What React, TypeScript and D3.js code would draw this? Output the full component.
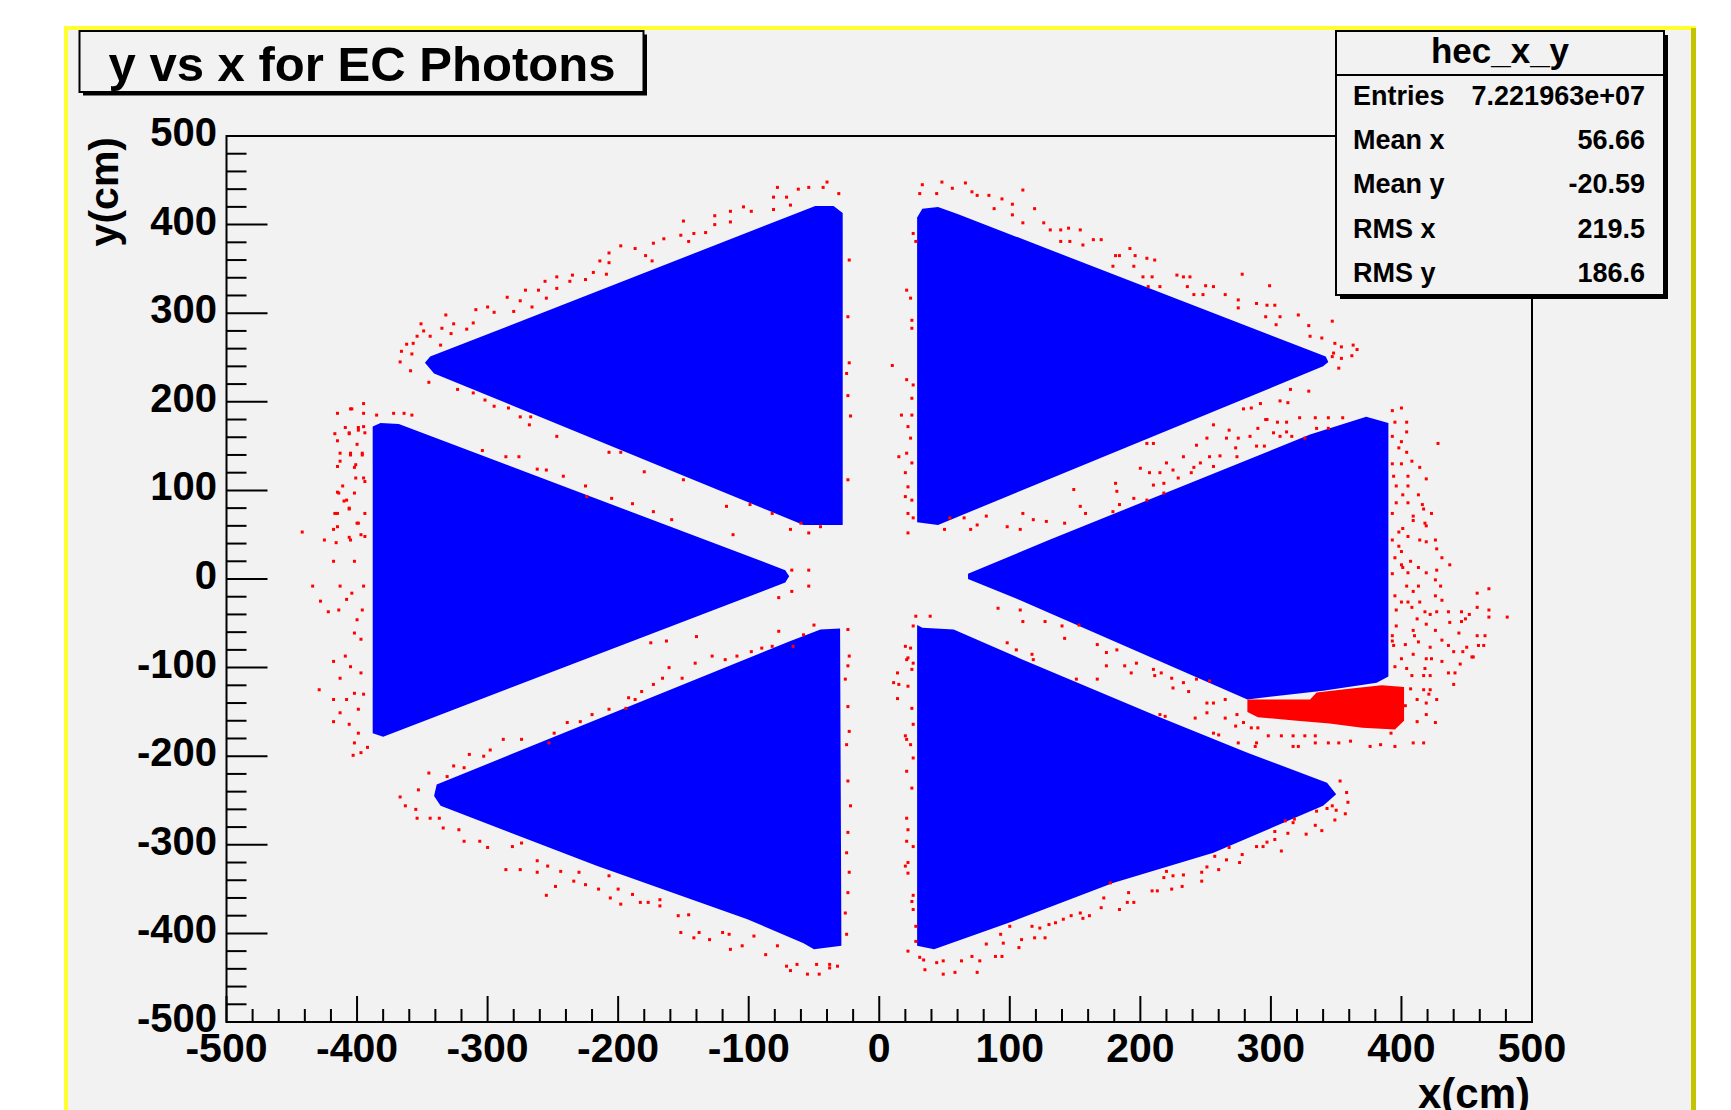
import React from 'react';
import * as d3 from 'd3';

type Pt = [number, number];

const title = 'y vs x for EC Photons';
const xTitle = 'x(cm)';
const yTitle = 'y(cm)';
const majorTicks = [-500, -400, -300, -200, -100, 0, 100, 200, 300, 400, 500];
const statsName = 'hec_x_y';
const statsKeys = ['Entries', 'Mean x', 'Mean y', 'RMS x', 'RMS y'];
const statsValues = ['7.221963e+07', '56.66', '-20.59', '219.5', '186.6'];

// filled sectors (blue histogram), outlines in cm
const sectorUpperLeft: Pt[] = [[-344, 251], [-49, 421], [-35, 421], [-28, 413], [-28, 61], [-58, 61], [-341, 232], [-348, 244]];
const sectorUpperRight: Pt[] = [[29, 408], [33, 418], [45, 420], [60, 412], [342, 251], [344, 245], [340, 240], [45, 61], [29, 64]];
const sectorLeft: Pt[] = [[-388, 172], [-382, 176], [-368, 175], [-72, 10], [-69, 3], [-72, -4], [-380, -178], [-388, -174]];
const sectorRight: Pt[] = [[68, 6], [130, 44], [330, 163], [373, 183], [390, 176], [390, -110], [381, -117], [340, -126], [282, -136], [108, -24], [68, 0]];
const sectorLowerLeft: Pt[] = [[-30, -56], [-45, -57], [-68, -70], [-339, -232], [-341, -245], [-336, -256], [-216, -324], [-101, -384], [-58, -411], [-50, -418], [-29, -414]];
const sectorLowerRight: Pt[] = [[29, -52], [33, -55], [57, -57], [110, -91], [213, -155], [282, -196], [343, -230], [350, -243], [340, -256], [256, -309], [179, -343], [103, -386], [42, -418], [29, -414]];

// dense red patch under the right sector
const hotSpot: Pt[] = [[282, -136], [330, -136], [335, -128], [360, -124], [385, -120], [402, -122], [402, -160], [395, -170], [370, -168], [345, -163], [320, -160], [290, -156], [282, -150]];

// red stray entries, cm
const strayUpperLeft: Pt[] = [[-78, 442], [-62, 440], [-54, 442], [-43, 442], [-40, 448], [-31, 435], [-81, 431], [-71, 431], [-68, 422], [-81, 417], [-104, 420], [-114, 415], [-98, 415], [-126, 410], [-150, 404], [-126, 400], [-114, 403], [-142, 390], [-133, 391], [-152, 388], [-173, 379], [-165, 384], [-146, 381], [-198, 376], [-187, 373], [-207, 368], [-179, 365], [-214, 359], [-207, 357], [-174, 359], [-219, 346], [-235, 343], [-209, 344], [-247, 341], [-256, 336], [-237, 336], [-225, 338], [-271, 326], [-261, 326], [-247, 328], [-275, 314], [-285, 318], [-255, 317], [-266, 307], [-300, 307], [-309, 304], [-295, 301], [-332, 298], [-280, 302], [-351, 288], [-326, 288], [-316, 282], [-311, 289], [-335, 283], [-349, 280], [-354, 274], [-344, 274], [-328, 277], [-362, 265], [-357, 266], [-366, 257], [-358, 254], [-367, 245], [-336, 264], [-359, 235], [-345, 222]];
const strayGapLeftUpper: Pt[] = [[-323, 214], [-311, 210], [-302, 202], [-295, 195], [-284, 193], [-275, 183], [-267, 183], [-268, 174], [-247, 161], [-207, 143], [-198, 143], [-180, 121], [-150, 112], [-117, 82], [-99, 84], [-68, 56], [-45, 59], [-112, 50], [-255, 123], [-242, 116], [-276, 138], [-286, 138], [-262, 124], [-225, 105], [-224, 93], [-205, 91], [-189, 85], [-173, 76], [-159, 67], [-304, 145], [-60, 63], [-54, 52], [-82, 74], [-67, 10], [-54, 10], [-54, -8], [-67, -14], [-77, -21]];
const strayLeft: Pt[] = [[-415, 187], [-405, 192], [-395, 198], [-395, 187], [-385, 185], [-372, 187], [-364, 187], [-358, 185], [-409, 171], [-399, 171], [-417, 164], [-406, 164], [-394, 165], [-413, 142], [-405, 142], [-396, 140], [-401, 129], [-415, 127], [-411, 105], [-401, 114], [-394, 110], [-414, 97], [-402, 97], [-410, 88], [-406, 80], [-394, 74], [-417, 74], [-400, 63], [-415, 59], [-394, 48], [-406, 47], [-442, 53], [-434, -8], [-428, -25], [-422, -37], [-429, -125], [-425, 44], [-418, 20], [-413, -8], [-414, -35], [-416, 41], [-418, 56], [-415, 74], [-415, 98], [-406, 79], [-405, 44], [-402, 126], [-395, 114], [-405, 140], [-396, 142], [-413, 133], [-415, 156], [-406, 165], [-399, 168], [-395, 172], [-404, 192], [-400, 152], [-408, 89], [-399, 63], [-397, 50], [-402, 20], [-395, -8], [-404, -16], [-408, -23], [-396, -35], [-400, -46], [-402, -61], [-397, -68], [-418, -93], [-409, -87], [-405, -99], [-413, -112], [-397, -106], [-402, -129], [-395, -130], [-418, -136], [-408, -136], [-413, -151], [-399, -147], [-418, -161], [-406, -164], [-402, -185], [-397, -196], [-399, -174], [-403, -199], [-392, -190]];
const strayGapLeftLower: Pt[] = [[-345, -219], [-331, -223], [-326, -211], [-314, -198], [-303, -200], [-298, -193], [-288, -181], [-274, -181], [-253, -185], [-249, -174], [-239, -162], [-229, -161], [-220, -153], [-207, -147], [-194, -146], [-187, -136], [-182, -127], [-173, -119], [-166, -112], [-161, -100], [-141, -95], [-128, -87], [-118, -91], [-109, -87], [-98, -82], [-90, -78], [-82, -76], [-77, -59], [-58, -63], [-50, -52], [-66, -76], [-140, -65], [-163, -70], [-175, -72], [-151, -112], [-192, -134], [-318, -213]];
const strayChannel: Pt[] = [[-24, 296], [-23, 244], [-25, 232], [-24, 207], [-22, 184], [-24, 112], [-23, 360], [21, 326], [24, 317], [25, 292], [25, 283], [28, 381], [26, 390], [10, 241], [21, 225], [26, 219], [25, 204], [17, 185], [25, 185], [22, 172], [24, 159], [15, 138], [21, 142], [25, 131], [20, 120], [22, 104], [20, 93], [25, 89], [22, 74], [26, 69], [22, 52], [-24, -354], [-26, -377], [-25, -401], [-23, -331], [-25, -309], [-24, -286], [-22, -256], [-24, -228], [-25, -187], [-23, -172], [-24, -144], [-26, -113], [-24, -98], [-23, -87], [-24, -57], [28, -42], [39, -42], [26, -53], [20, -76], [24, -78], [22, -89], [26, -95], [25, -102], [21, -91], [14, -106], [11, -117], [15, -119], [22, -121], [14, -135], [25, -146], [26, -164], [20, -177], [21, -181], [24, -187], [26, -202], [21, -217], [25, -236], [21, -270], [22, -283], [21, -296], [26, -302], [20, -324], [22, -332], [22, -320], [26, -357], [25, -364], [26, -373], [28, -392], [28, -409], [22, -420]];
const strayUpperRight: Pt[] = [[31, 435], [33, 445], [48, 448], [56, 441], [44, 435], [66, 447], [71, 437], [75, 433], [84, 433], [94, 429], [102, 423], [110, 439], [119, 418], [88, 418], [102, 411], [110, 402], [126, 402], [131, 394], [139, 394], [145, 396], [154, 394], [164, 383], [170, 383], [146, 381], [156, 377], [139, 381], [181, 365], [184, 365], [192, 373], [196, 365], [205, 362], [211, 360], [179, 353], [195, 353], [202, 341], [209, 341], [228, 343], [233, 341], [238, 341], [206, 330], [215, 330], [236, 330], [250, 331], [256, 330], [278, 344], [299, 331], [241, 321], [248, 321], [265, 321], [275, 315], [289, 311], [297, 309], [303, 309], [275, 306], [296, 296], [307, 296], [321, 298], [304, 287], [329, 286], [347, 291], [330, 274], [339, 272], [349, 266], [354, 262], [363, 264], [366, 259], [347, 251], [354, 249], [362, 252], [352, 238], [348, 255]];
const strayGapRightUpper: Pt[] = [[315, 214], [329, 212], [307, 201], [313, 199], [279, 192], [285, 193], [297, 180], [322, 182], [334, 182], [344, 182], [355, 182], [335, 170], [344, 170], [316, 161], [307, 161], [290, 170], [284, 161], [268, 168], [256, 174], [266, 159], [275, 159], [251, 159], [243, 151], [253, 138], [261, 139], [246, 131], [241, 126], [220, 131], [215, 120], [225, 123], [229, 114], [233, 138], [289, 150], [295, 150], [273, 148], [274, 138], [256, 127], [239, 120], [218, 108], [207, 120], [210, 106], [200, 125], [181, 108], [182, 99], [149, 101], [184, 84], [195, 91], [205, 89], [218, 97], [154, 82], [158, 74], [179, 76], [142, 63], [128, 65], [118, 67], [110, 74], [108, 56], [98, 59], [75, 61], [82, 71], [70, 56], [65, 69], [50, 56], [54, 69], [210, 153], [205, 153], [296, 180], [305, 177], [312, 177], [302, 165], [312, 166], [326, 159], [292, 198]];
const strayRight: Pt[] = [[400, 193], [393, 190], [395, 177], [404, 177], [404, 166], [393, 161], [400, 155], [398, 148], [404, 143], [428, 153], [408, 133], [400, 130], [393, 130], [414, 126], [394, 116], [405, 116], [419, 113], [396, 105], [405, 105], [401, 95], [413, 95], [396, 86], [405, 86], [416, 84], [417, 79], [423, 74], [409, 71], [409, 66], [418, 63], [419, 60], [393, 74], [401, 57], [398, 53], [405, 48], [414, 44], [419, 42], [426, 44], [393, 44], [398, 37], [400, 31], [427, 34], [395, 24], [407, 20], [431, 24], [437, 16], [400, 16], [401, 13], [405, 7], [413, 13], [419, 7], [427, 10], [393, 6], [426, -1], [404, -8], [409, -14], [413, -8], [430, -8], [458, -16], [467, -11], [395, -19], [400, -26], [405, -26], [414, -26], [426, -19], [431, -24], [396, -35], [408, -32], [418, -37], [422, -40], [427, -37], [436, -37], [446, -37], [458, -32], [467, -35], [481, -43], [452, -40], [467, -43], [449, -45], [446, -48], [412, -45], [419, -51], [426, -58], [437, -49], [396, -53], [409, -58], [410, -64], [444, -61], [458, -64], [464, -64], [393, -64], [393, -70], [394, -75], [403, -74], [413, -71], [422, -77], [431, -69], [436, -75], [440, -82], [450, -77], [454, -88], [447, -82], [459, -75], [463, -75], [400, -90], [409, -85], [419, -90], [423, -90], [431, -93], [445, -96], [455, -88], [395, -99], [404, -101], [418, -101], [417, -109], [422, -109], [408, -109], [436, -106], [441, -106], [440, -119], [407, -124], [417, -125], [422, -125], [421, -130], [419, -140], [403, -143], [412, -136], [412, -161], [427, -136], [419, -153], [426, -162], [409, -185], [417, -185], [392, -174], [395, -189]];
const strayGapRightLower: Pt[] = [[91, -33], [108, -35], [110, -48], [127, -48], [140, -53], [153, -52], [142, -67], [167, -74], [182, -80], [174, -83], [197, -95], [188, -98], [174, -98], [193, -106], [210, -102], [216, -106], [224, -112], [211, -109], [233, -117], [225, -123], [237, -127], [243, -113], [253, -115], [265, -136], [251, -140], [256, -140], [251, -151], [265, -157], [274, -153], [279, -162], [285, -168], [290, -168], [298, -177], [308, -177], [317, -177], [317, -189], [326, -177], [334, -177], [334, -185], [344, -185], [352, -185], [361, -183], [376, -189], [384, -187], [260, -176], [275, -185], [289, -185], [105, -80], [117, -85], [118, -91], [98, -72], [151, -113], [167, -113], [215, -153], [219, -155], [242, -157], [256, -174], [273, -166], [288, -189], [321, -189]];
const strayLowerRight: Pt[] = [[31, -427], [34, -430], [35, -441], [44, -433], [49, -446], [58, -444], [49, -431], [63, -431], [71, -426], [77, -431], [75, -444], [89, -426], [94, -426], [82, -412], [95, -411], [107, -416], [109, -407], [119, -405], [127, -405], [93, -401], [100, -392], [117, -392], [123, -394], [130, -390], [135, -388], [141, -384], [147, -380], [154, -377], [161, -380], [156, -383], [170, -371], [184, -373], [190, -365], [195, -365], [172, -360], [191, -354], [177, -343], [209, -352], [213, -352], [224, -350], [232, -347], [218, -337], [220, -330], [225, -335], [233, -334], [247, -341], [247, -331], [251, -325], [260, -328], [257, -313], [266, -317], [278, -311], [276, -320], [268, -303], [289, -302], [294, -302], [297, -297], [303, -294], [308, -307], [303, -285], [313, -287], [317, -275], [327, -288], [334, -278], [339, -284], [349, -272], [357, -265], [343, -259], [347, -256], [350, -261], [353, -228], [358, -241], [359, -252], [335, -262], [318, -271], [311, -273]];
const strayLowerLeft: Pt[] = [[-367, -246], [-363, -256], [-353, -238], [-355, -260], [-354, -270], [-344, -270], [-337, -270], [-334, -281], [-322, -283], [-318, -296], [-306, -296], [-300, -303], [-286, -328], [-275, -328], [-281, -302], [-274, -298], [-262, -318], [-262, -331], [-255, -357], [-248, -347], [-254, -324], [-244, -330], [-234, -341], [-225, -345], [-230, -331], [-207, -335], [-215, -350], [-206, -360], [-198, -367], [-200, -350], [-189, -356], [-183, -365], [-177, -365], [-168, -362], [-168, -369], [-154, -380], [-146, -379], [-152, -399], [-142, -405], [-138, -399], [-130, -407], [-120, -399], [-114, -418], [-105, -414], [-115, -401], [-96, -403], [-87, -424], [-78, -414], [-71, -437], [-68, -442], [-63, -435], [-55, -446], [-48, -435], [-46, -446], [-38, -435], [-38, -439], [-32, -437]];

const font = "'Liberation Sans', Arial, Helvetica, sans-serif";

export default function App() {
  const x = d3.scaleLinear().domain([-500, 500]).range([226.5, 1532]);
  const y = d3.scaleLinear().domain([-500, 500]).range([1022, 136]);
  const minorTicks = d3.range(-500, 501, 20).filter((v) => v % 100 !== 0);
  const outline = d3
    .line<Pt>()
    .x((d) => x(d[0]))
    .y((d) => y(d[1]))
    .curve(d3.curveLinearClosed);

  const sectors = [sectorUpperLeft, sectorUpperRight, sectorLeft, sectorRight, sectorLowerLeft, sectorLowerRight];
  const strays = [
    ...strayUpperLeft, ...strayGapLeftUpper, ...strayLeft, ...strayGapLeftLower, ...strayChannel,
    ...strayUpperRight, ...strayGapRightUpper, ...strayRight, ...strayGapRightLower,
    ...strayLowerRight, ...strayLowerLeft,
  ];

  const [x0, x1] = x.range();
  const [yb, yt] = y.range();

  return (
    <svg width={1731} height={1110} style={{ position: 'absolute', left: 0, top: 0 }} fontFamily={font} fontWeight="bold">
      <rect x={0} y={0} width={1731} height={1110} fill="#ffffff" />
      {/* canvas with bevelled yellow border */}
      <rect x={64} y={26} width={1632} height={1100} fill="#f2f2f2" />
      <rect x={64} y={26} width={1632} height={4} fill="#ffff30" />
      <rect x={64} y={26} width={4} height={1100} fill="#ffff30" />
      <rect x={1691} y={28} width={5} height={1100} fill="#c4c400" />

      {/* data */}
      {sectors.map((s, i) => (
        <path key={i} d={outline(s) ?? ''} fill="#0000ff" />
      ))}
      {strays.map((p, i) => (
        <rect key={i} x={x(p[0]) - 1.5} y={y(p[1]) - 1.5} width={3} height={3} fill="#ff0000" />
      ))}
      <path d={outline(hotSpot) ?? ''} fill="#ff0000" />

      {/* frame */}
      <rect x={x0} y={yt} width={x1 - x0} height={yb - yt} fill="none" stroke="#000" strokeWidth={2} />

      {/* axes ticks */}
      <g stroke="#000" strokeWidth={2}>
        {majorTicks.map((v) => (
          <line key={'ym' + v} x1={x0} x2={x0 + 41} y1={y(v)} y2={y(v)} />
        ))}
        {minorTicks.map((v) => (
          <line key={'yn' + v} x1={x0} x2={x0 + 20} y1={y(v)} y2={y(v)} />
        ))}
        {majorTicks.map((v) => (
          <line key={'xm' + v} x1={x(v)} x2={x(v)} y1={yb} y2={yb - 26} />
        ))}
        {minorTicks.map((v) => (
          <line key={'xn' + v} x1={x(v)} x2={x(v)} y1={yb} y2={yb - 13} />
        ))}
      </g>
      {majorTicks.map((v) => (
        <text key={'yl' + v} x={217} y={y(v) + 10} fontSize={40} textAnchor="end" fill="#000">
          {v}
        </text>
      ))}
      {majorTicks.map((v) => (
        <text key={'xl' + v} x={x(v)} y={1062} fontSize={41} textAnchor="middle" fill="#000">
          {v}
        </text>
      ))}
      <text x={1530} y={1108} fontSize={42} textAnchor="end" fill="#000">
        {xTitle}
      </text>
      <text transform="translate(118,137) rotate(-90)" fontSize={41} textAnchor="end" fill="#000">
        {yTitle}
      </text>

      {/* title box */}
      <rect x={83} y={34.5} width={564} height={61} fill="#000" />
      <rect x={79.5} y={31} width={564} height={61} fill="#f2f2f2" stroke="#000" strokeWidth={2} />
      <text x={362} y={81} fontSize={49} textAnchor="middle" fill="#000" textLength={507} lengthAdjust="spacingAndGlyphs">
        {title}
      </text>

      {/* stats box */}
      <rect x={1340} y={35} width={328} height={264} fill="#000" />
      <rect x={1336} y={31} width={328} height={264} fill="#f2f2f2" stroke="#000" strokeWidth={2} />
      <line x1={1336} x2={1664} y1={75} y2={75} stroke="#000" strokeWidth={2} />
      <text x={1500} y={63} fontSize={35} textAnchor="middle" fill="#000">
        {statsName}
      </text>
      {statsKeys.map((k, i) => (
        <g key={k}>
          <text x={1353} y={105 + i * 44.2} fontSize={27} fill="#000">
            {k}
          </text>
          <text x={1645} y={105 + i * 44.2} fontSize={27} textAnchor="end" fill="#000">
            {statsValues[i]}
          </text>
        </g>
      ))}
    </svg>
  );
}
